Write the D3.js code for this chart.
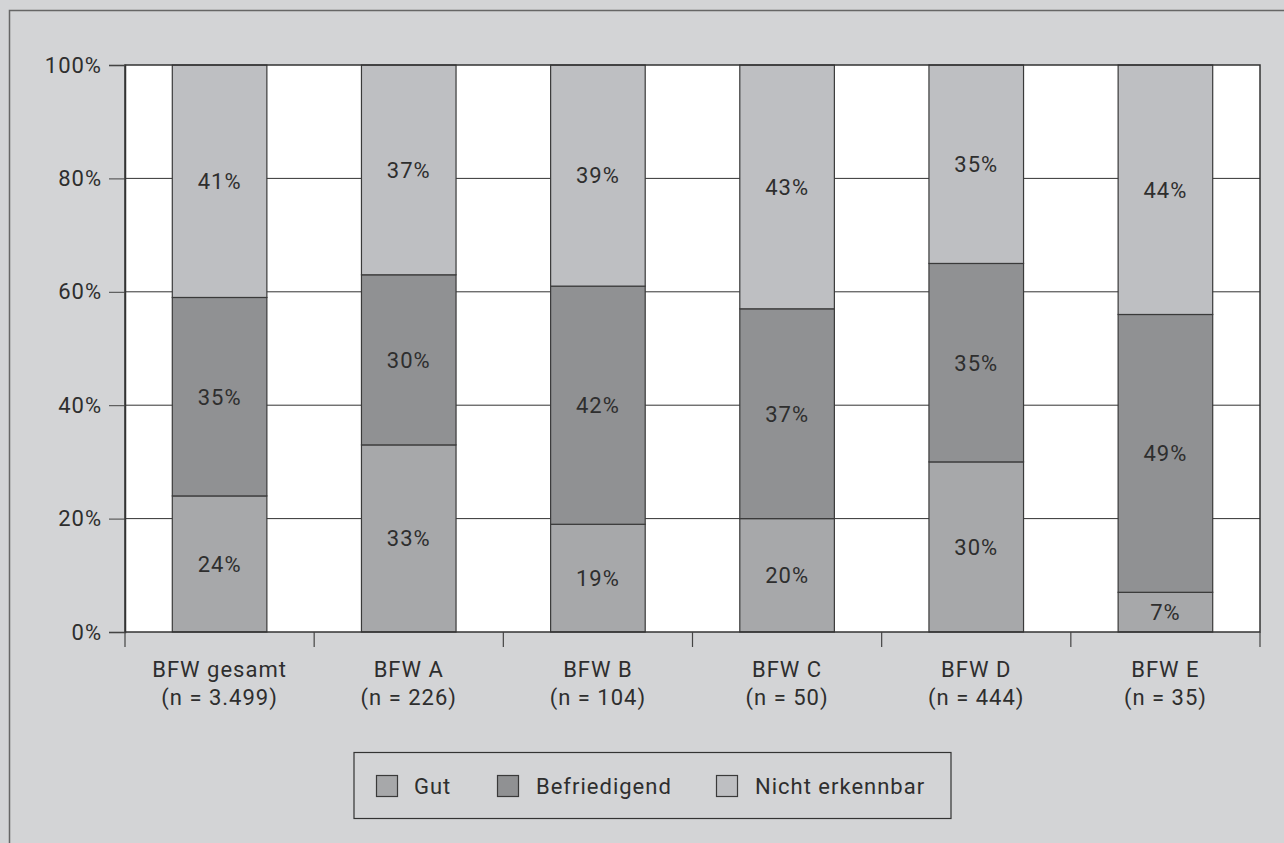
<!DOCTYPE html>
<html>
<head>
<meta charset="utf-8">
<script src="https://cdn.jsdelivr.net/npm/d3@7"></script>
<style>
  html, body { margin: 0; padding: 0; background: #d3d4d6; }
  svg { display: block; }
  text { font-family: Roboto, "DejaVu Sans", sans-serif; fill: #2e2e2e; letter-spacing: 1px; }
</style>
</head>
<body>
<svg id="chart" width="1284" height="843"></svg>
<script>
// Categories (two-line labels) and the share of each rating per group
const categories = ["BFW gesamt", "BFW A", "BFW B", "BFW C", "BFW D", "BFW E"];
const sampleSizes = ["(n = 3.499)", "(n = 226)", "(n = 104)", "(n = 50)", "(n = 444)", "(n = 35)"];
const gut = [24, 33, 19, 20, 30, 7];
const befriedigend = [35, 30, 42, 37, 35, 49];
const nichtErkennbar = [41, 37, 39, 43, 35, 44];
const seriesNames = ["Gut", "Befriedigend", "Nicht erkennbar"];
const yTicks = [0, 20, 40, 60, 80, 100];

const colors = { "Gut": "#a7a8aa", "Befriedigend": "#909193", "Nicht erkennbar": "#bebfc2" };
const FS = 22;

const rows = categories.map((c, i) => ({
  cat: c, "Gut": gut[i], "Befriedigend": befriedigend[i], "Nicht erkennbar": nichtErkennbar[i]
}));

const svg = d3.select("#chart");
const W = 1284, H = 843;
const m = { left: 125, right: 1260, top: 65, bottom: 632 };

// outer frame
svg.append("rect").attr("x", 9.5).attr("y", 10.5).attr("width", W + 10).attr("height", H + 10)
  .attr("fill", "#d3d4d6").attr("stroke", "#666").attr("stroke-width", 1.5);

const x = d3.scaleBand().domain(categories).range([m.left, m.right]).paddingInner(0.5).paddingOuter(0.25);
const xOuter = d3.scaleBand().domain(categories).range([m.left, m.right]);
const y = d3.scaleLinear().domain([0, 100]).range([m.bottom, m.top]);

// plot area
svg.append("rect").attr("x", m.left).attr("y", m.top)
  .attr("width", m.right - m.left).attr("height", m.bottom - m.top).attr("fill", "#fff");

// gridlines
svg.append("g").selectAll("line").data(yTicks.filter(t => t > 0 && t < 100)).join("line")
  .attr("x1", m.left).attr("x2", m.right)
  .attr("y1", d => y(d)).attr("y2", d => y(d))
  .attr("stroke", "#333").attr("stroke-width", 1);

// stacked bars
const stack = d3.stack().keys(seriesNames)(rows);
const layers = svg.append("g").selectAll("g").data(stack).join("g")
  .attr("fill", d => colors[d.key]);
layers.selectAll("rect").data(d => d).join("rect")
  .attr("x", d => x(d.data.cat))
  .attr("width", x.bandwidth())
  .attr("y", d => y(d[1]))
  .attr("height", d => y(d[0]) - y(d[1]))
  .attr("stroke", "#3a3a3a").attr("stroke-width", 1.2);

// value labels
const labels = svg.append("g");
stack.forEach(layer => {
  labels.selectAll(null).data(layer).join("text")
    .attr("x", d => x(d.data.cat) + x.bandwidth() / 2)
    .attr("y", d => y((d[0] + d[1]) / 2))
    .attr("dy", "0.36em")
    .attr("text-anchor", "middle")
    .attr("font-size", FS)
    .text(d => (d[1] - d[0]) + "%");
});

// plot frame
svg.append("rect").attr("x", m.left).attr("y", m.top)
  .attr("width", m.right - m.left).attr("height", m.bottom - m.top)
  .attr("fill", "none").attr("stroke", "#333").attr("stroke-width", 1.5);

// y axis
const yAxis = svg.append("g").attr("transform", `translate(${m.left},0)`)
  .call(d3.axisLeft(y).tickValues(yTicks).tickFormat(d => d + "%").tickSize(16).tickPadding(7));
yAxis.attr("font-size", FS).attr("font-family", null);
yAxis.select(".domain").attr("stroke", "#333").attr("stroke-width", 1.5);
yAxis.selectAll(".tick line").attr("stroke", "#444");
yAxis.selectAll(".tick text").attr("font-size", FS).attr("fill", "#2e2e2e");

// x axis: category separators and two-line labels
const xg = svg.append("g");
const bounds = categories.map(c => xOuter(c)).concat([m.right]);
xg.selectAll("line").data(bounds).join("line")
  .attr("x1", d => d).attr("x2", d => d)
  .attr("y1", m.bottom).attr("y2", m.bottom + 15)
  .attr("stroke", "#444").attr("stroke-width", 1.2);
xg.selectAll("text.cat").data(categories).join("text").attr("class", "cat")
  .attr("x", d => xOuter(d) + xOuter.bandwidth() / 2)
  .attr("y", 677).attr("text-anchor", "middle").attr("font-size", FS)
  .text(d => d);
xg.selectAll("text.n").data(sampleSizes).join("text").attr("class", "n")
  .attr("x", (d, i) => xOuter(categories[i]) + xOuter.bandwidth() / 2)
  .attr("y", 705).attr("text-anchor", "middle").attr("font-size", FS)
  .text(d => d);

// legend
const lg = svg.append("g");
lg.append("rect").attr("x", 354).attr("y", 752.5).attr("width", 597).attr("height", 66)
  .attr("fill", "none").attr("stroke", "#333").attr("stroke-width", 1.2);
const legendPos = [
  { sx: 376.5, tx: 414 },
  { sx: 497.5, tx: 536 },
  { sx: 716.5, tx: 755 }
];
seriesNames.forEach((s, i) => {
  lg.append("rect").attr("x", legendPos[i].sx).attr("y", 775.5).attr("width", 21).attr("height", 21)
    .attr("fill", colors[s]).attr("stroke", "#3a3a3a").attr("stroke-width", 1.2);
  lg.append("text").attr("x", legendPos[i].tx).attr("y", 786).attr("dy", "0.36em")
    .attr("font-size", FS).text(s);
});
</script>
</body>
</html>
